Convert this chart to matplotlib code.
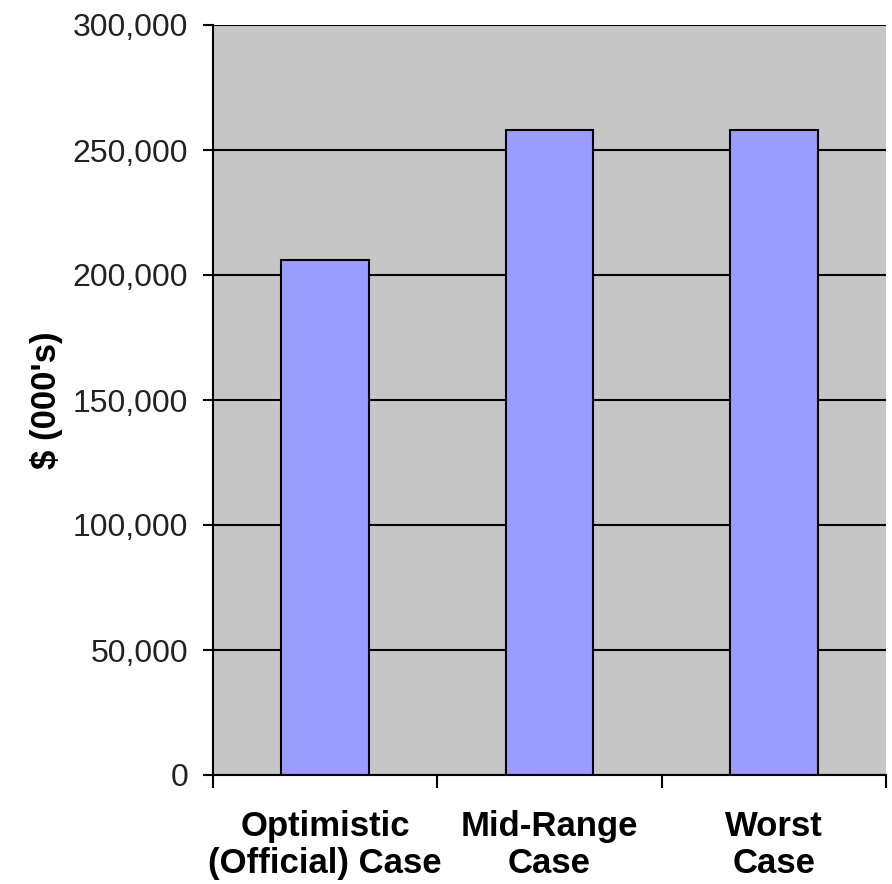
import numpy as np
import matplotlib.pyplot as plt
from matplotlib.ticker import FuncFormatter, FixedLocator

plt.rcParams["font.family"] = ["Liberation Sans", "DejaVu Sans"]

# data
categories = ["Optimistic\n(Official) Case", "Mid-Range\nCase", "Worst\nCase"]
values = [206000, 258000, 258000]
y_ticks = [0, 50000, 100000, 150000, 200000, 250000, 300000]

fig = plt.figure(figsize=(8.92, 8.84), dpi=100)
ax = fig.add_axes([213 / 892, 1 - 775 / 884, 673 / 892, 750 / 884])
ax.set_facecolor("#C6C6C6")

x = np.arange(len(categories))
ax.bar(x, values, width=0.39, color="#9C9CFF", edgecolor="black", linewidth=1.5, zorder=3)

ax.set_xlim(-0.5, len(categories) - 0.5)
ax.set_ylim(0, 300000)
ax.set_yticks(y_ticks)
ax.yaxis.set_major_formatter(FuncFormatter(lambda v, p: f"{int(v):,}"))
ax.grid(axis="y", color="black", linewidth=1.5, zorder=1)

ax.set_xticks(x)
ax.set_xticklabels(categories, fontsize=25, fontweight="bold", linespacing=1.18)
ax.xaxis.set_minor_locator(FixedLocator(np.arange(-0.5, len(categories), 1.0)))
ax.tick_params(axis="x", which="major", length=0, pad=25)
ax.tick_params(axis="x", which="minor", length=9, width=1.5, color="black")
ax.tick_params(axis="y", length=7, width=1.5, pad=11, labelsize=23, labelcolor="#222222")

for side in ["top", "right"]:
    ax.spines[side].set_visible(False)
for side in ["left", "bottom"]:
    ax.spines[side].set_linewidth(1.5)
    ax.spines[side].set_zorder(4)

ax.set_ylabel("$ (000's)", fontsize=25, fontweight="bold", labelpad=7)

fig.savefig("out.png", dpi=100)
